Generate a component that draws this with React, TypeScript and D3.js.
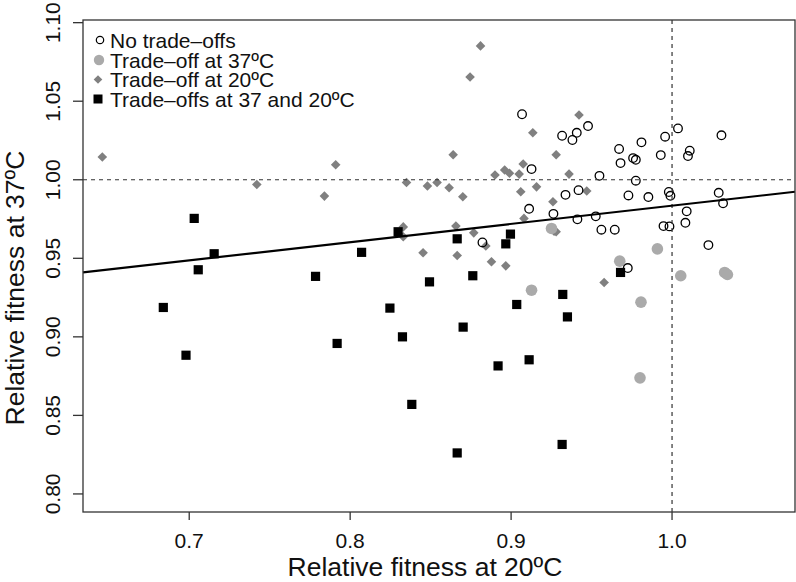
import React from "react";
import * as d3 from "d3";

// ---- Data (relative fitness at 20ºC, relative fitness at 37ºC) ----
const noTradeX = [0.9068,0.9478,0.9408,0.9317,0.9381,0.9127,0.9549,0.9671,0.981,0.9957,1.0037,1.0307,1.011,1.0099,0.968,0.9758,0.9775,0.993,0.9775,0.9419,0.9338,0.9729,0.9853,0.998,0.999,1.029,1.0317,0.9112,0.9263,0.9412,0.9526,1.0091,1.0083,0.9561,0.9644,0.9947,0.9984,1.0226,0.8822,0.9725];
const noTradeY = [1.0417,1.0342,1.0299,1.028,1.0253,1.0068,1.0025,1.0196,1.0238,1.0274,1.0327,1.0283,1.0185,1.0151,1.0106,1.0138,1.0127,1.0157,0.9994,0.9934,0.9904,0.990,0.989,0.9922,0.9898,0.9917,0.985,0.9815,0.9783,0.9748,0.9767,0.9799,0.9726,0.9682,0.9682,0.9705,0.9703,0.9584,0.9601,0.9438];

const trade37X = [0.9127,0.9251,0.9675,0.9909,0.9807,0.9801,1.0054,1.0327,1.0344];
const trade37Y = [0.9297,0.969,0.9482,0.956,0.9221,0.8739,0.9389,0.941,0.9397];

const trade20X = [0.646,0.742,0.784,0.791,0.835,0.833,0.833,0.864,0.848,0.854,0.8615,0.870,0.890,0.896,0.899,0.905,0.9075,0.906,0.9158,0.928,0.936,0.947,0.926,0.908,0.9267,0.928,0.8657,0.8768,0.8843,0.8453,0.8665,0.8878,0.8967,0.9578,0.881,0.8745,0.9422,0.9135];
const trade20Y = [1.0145,0.997,0.9896,1.0096,0.9983,0.970,0.9637,1.0159,0.996,0.9983,0.9949,0.9892,1.003,1.0062,1.0041,1.0036,1.010,0.9924,0.9955,1.0159,1.0036,0.9928,0.986,0.9754,0.9673,0.9669,0.9705,0.9662,0.9578,0.9535,0.9518,0.9478,0.9452,0.9346,1.0852,1.0654,1.0412,1.0299];

const tradeBothX = [0.6839,0.698,0.7031,0.7056,0.7155,0.7785,0.7919,0.8071,0.8247,0.8298,0.8325,0.8383,0.8493,0.8665,0.8665,0.8702,0.8762,0.8967,0.8996,0.8919,0.9035,0.9112,0.9321,0.935,0.9317,0.968];
const tradeBothY = [0.9187,0.8883,0.9754,0.9427,0.9529,0.9385,0.8958,0.9538,0.9183,0.9669,0.9000,0.857,0.935,0.9624,0.8261,0.9062,0.9389,0.9592,0.9654,0.8815,0.9206,0.8854,0.927,0.9127,0.8315,0.941];

const xTicks = [0.7, 0.8, 0.9, 1.0];
const yTicks = [0.8, 0.85, 0.9, 0.95, 1.0, 1.05, 1.1];
const fitIntercept = 0.8674;
const fitSlope = 0.1161;
const refX = 1.0;
const refY = 1.0;

const legendLabels = ["No trade\u2013offs", "Trade\u2013off at 37\u00baC", "Trade\u2013off at 20\u00baC", "Trade\u2013offs at 37 and 20\u00baC"];
const xTitle = "Relative fitness at 20\u00baC";
const yTitle = "Relative fitness at 37\u00baC";

const W = 796, H = 582;
const L = 83, R = 795, T = 20, B = 512;
const FONT = "'Liberation Sans', Arial, Helvetica, sans-serif";
const AXC = "#333";

export default function App() {
  const x = d3.scaleLinear().domain([0.634, 1.0764]).range([L, R]);
  const y = d3.scaleLinear().domain([0.7885, 1.1017]).range([B, T]);
  const fx = x.domain();
  const fitLine = d3.line<number>().x(d => x(d)).y(d => y(fitIntercept + fitSlope * d))(fx) || "";

  const diamond = (cx: number, cy: number, r: number) =>
    `M${cx},${cy - r}L${cx + r},${cy}L${cx},${cy + r}L${cx - r},${cy}Z`;

  const legendX = 99;
  const legendY = [40, 60, 79.5, 99];

  return (
    <svg width={W} height={H} style={{ position: "absolute", left: 0, top: 0, display: "block", background: "#fff" }} fontFamily={FONT}>
      <rect x={0} y={0} width={W} height={H} fill="#fff" />
      {/* points */}
      <g>
        {trade20X.map((d, i) => (
          <path key={"d" + i} d={diamond(x(d), y(trade20Y[i]), 4.8)} fill="#808080" />
        ))}
        {trade37X.map((d, i) => (
          <circle key={"g" + i} cx={x(d)} cy={y(trade37Y[i])} r={5.8} fill="#aaaaaa" />
        ))}
        {tradeBothX.map((d, i) => (
          <rect key={"s" + i} x={x(d) - 4.6} y={y(tradeBothY[i]) - 4.6} width={9.2} height={9.2} fill="#000" />
        ))}
        {noTradeX.map((d, i) => (
          <circle key={"o" + i} cx={x(d)} cy={y(noTradeY[i])} r={4.3} fill="none" stroke="#000" strokeWidth={1.3} />
        ))}
      </g>
      {/* reference lines */}
      <line x1={L} x2={R} y1={y(refY)} y2={y(refY)} stroke={AXC} strokeWidth={1.2} strokeDasharray="4,4" />
      <line x1={x(refX)} x2={x(refX)} y1={T} y2={B} stroke={AXC} strokeWidth={1.2} strokeDasharray="4,4" />
      {/* fit */}
      <path d={fitLine} stroke="#000" strokeWidth={2.2} fill="none" />
      {/* box */}
      <rect x={L} y={T} width={R - L} height={B - T} fill="none" stroke={AXC} strokeWidth={1.3} />
      {/* x axis */}
      <g>
        {xTicks.map(t => (
          <g key={"xt" + t}>
            <line x1={x(t)} x2={x(t)} y1={B} y2={B + 8} stroke={AXC} strokeWidth={1.3} />
            <text x={x(t)} y={548} textAnchor="middle" fontSize={21} fill="#111">{t.toFixed(1)}</text>
          </g>
        ))}
      </g>
      {/* y axis */}
      <g>
        {yTicks.map(t => (
          <g key={"yt" + t}>
            <line x1={L - 10} x2={L} y1={y(t)} y2={y(t)} stroke={AXC} strokeWidth={1.3} />
            <text transform={`translate(60,${y(t)}) rotate(-90)`} textAnchor="middle" fontSize={21} fill="#111">{t.toFixed(2)}</text>
          </g>
        ))}
      </g>
      {/* titles */}
      <text x={425} y={576} textAnchor="middle" fontSize={26.5} fill="#111">{xTitle}</text>
      <text transform={`translate(24,288) rotate(-90)`} textAnchor="middle" fontSize={26.5} fill="#111">{yTitle}</text>
      {/* legend */}
      <g>
        <circle cx={legendX + 1} cy={legendY[0]} r={3.7} fill="none" stroke="#000" strokeWidth={1.2} />
        <circle cx={legendX} cy={legendY[1]} r={5.2} fill="#aaaaaa" />
        <path d={diamond(legendX - 1, legendY[2], 4.3)} fill="#808080" />
        <rect x={legendX - 5.5} y={legendY[3] - 4.5} width={9} height={9} fill="#000" />
        {legendLabels.map((lab, i) => (
          <text key={lab} x={110} y={legendY[i] + 7.5} fontSize={21} fill="#111">{lab}</text>
        ))}
      </g>
    </svg>
  );
}
